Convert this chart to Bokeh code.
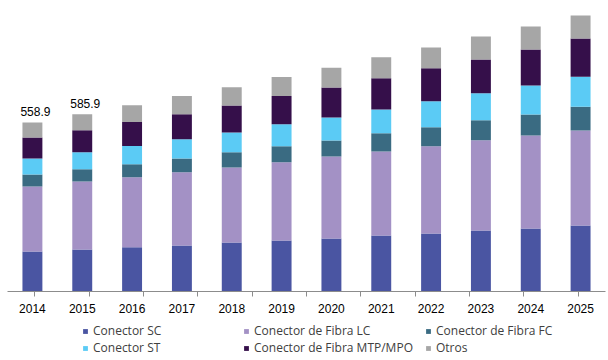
from bokeh.plotting import figure
from bokeh.layouts import column
from bokeh.models import (Range1d, FactorRange, CategoricalAxis,
                          Legend, LegendItem, ColumnDataSource)
from bokeh.core.properties import value
from bokeh.embed import file_html
from bokeh.resources import INLINE

years = ["2014", "2015", "2016", "2017", "2018", "2019", "2020", "2021", "2022", "2023", "2024", "2025"]
conector_sc = [132, 139, 146, 152, 162, 169, 175, 185, 192, 202, 208, 218]
fibra_lc = [215, 225, 232, 242, 248, 258, 271, 278, 288, 298, 308, 314]
fibra_fc = [40, 40, 43, 46, 50, 53, 53, 60, 63, 66, 69, 79]
conector_st = [53, 56, 60, 63, 66, 73, 76, 79, 86, 89, 96, 99]
fibra_mtp = [69, 73, 79, 83, 89, 93, 99, 103, 109, 112, 119, 126]
otros = [49.9, 52.9, 56, 60, 60, 63, 66, 69, 69, 76, 76, 76]

series_keys = ["sc", "lc", "fc", "st", "mtp", "otros"]
series_names = ["Conector SC", "Conector de Fibra LC", "Conector de Fibra FC",
                "Conector ST", "Conector de Fibra MTP/MPO", "Otros"]
colors = ["#4A55A2", "#A391C5", "#3A6B82", "#5BCBF5", "#350F4A", "#A6A6A6"]

label_years = ["2014", "2015"]
label_values = [558.9, 585.9]
label_texts = ["558.9", "585.9"]

src = ColumnDataSource(dict(years=years, sc=conector_sc, lc=fibra_lc, fc=fibra_fc,
                            st=conector_st, mtp=fibra_mtp, otros=otros))

p = figure(width=608, height=317, x_range=FactorRange(*years), y_range=Range1d(0, 962),
           output_backend="svg", toolbar_location=None, x_axis_location=None,
           y_axis_location=None, min_border_left=7, min_border_right=3,
           min_border_top=0, min_border_bottom=26)
p.outline_line_color = None
p.xgrid.grid_line_color = None
p.ygrid.grid_line_color = None

rs = p.vbar_stack(series_keys, x="years", width=0.4, source=src, color=colors, line_color=None)

p.text(x=label_years, y=label_values, text=label_texts, text_align="center",
       text_baseline="bottom", y_offset=-6, x_offset=3, text_font=value("Liberation Sans"),
       text_font_size="12px", text_color="#000000")

# axis line with ticks on the boundaries between categories:
# one factor per boundary, range shrunk by half a factor on each side
edge_factors = ["b%d" % i for i in range(len(years) + 1)]
p.extra_x_ranges = {"edges": FactorRange(factors=edge_factors, range_padding=-1,
                                         range_padding_units="absolute")}
edge_axis = CategoricalAxis(x_range_name="edges",
                            major_label_text_font_size="0px", major_label_text_alpha=0,
                            major_label_standoff=0,
                            major_tick_in=0, major_tick_out=5,
                            axis_line_color="#8C8C8C", major_tick_line_color="#8C8C8C")
p.add_layout(edge_axis, "below")

cat_axis = CategoricalAxis(axis_line_color=None, major_tick_line_color=None,
                           major_tick_out=0, major_tick_in=0, major_label_standoff=7,
                           major_label_text_font="Liberation Sans",
                           major_label_text_font_size="12px", major_label_text_color="#000000")
p.add_layout(cat_axis, "below")

# legend panel: a second figure holding hidden copies of the series for the legend swatches
lp = figure(width=608, height=43, x_range=FactorRange(*years), y_range=Range1d(0, 1),
            output_backend="svg", toolbar_location=None, x_axis_location=None,
            y_axis_location=None, min_border_left=0, min_border_right=0,
            min_border_top=0, min_border_bottom=0)
lp.outline_line_color = None
lp.xgrid.grid_line_color = None
lp.ygrid.grid_line_color = None
lrs = lp.vbar_stack(series_keys, x="years", width=0.4, source=src, color=colors,
                    line_color=None, visible=False)

col_x = [75, 236, 418]
for c in range(3):
    items = [LegendItem(label=series_names[c], renderers=[lrs[c]]),
             LegendItem(label=series_names[c + 3], renderers=[lrs[c + 3]])]
    leg = Legend(items=items, location=(col_x[c], 4), orientation="vertical",
                 padding=0, margin=0, spacing=-1, label_height=12, glyph_height=6, glyph_width=6,
                 label_standoff=5, border_line_color=None, background_fill_alpha=0,
                 inactive_fill_alpha=0,
                 label_text_font="Open Sans", label_text_font_size="12px",
                 label_text_color="#404040")
    lp.add_layout(leg)

layout = column(p, lp, spacing=0)
open("out.html", "w").write(file_html(layout, INLINE))
